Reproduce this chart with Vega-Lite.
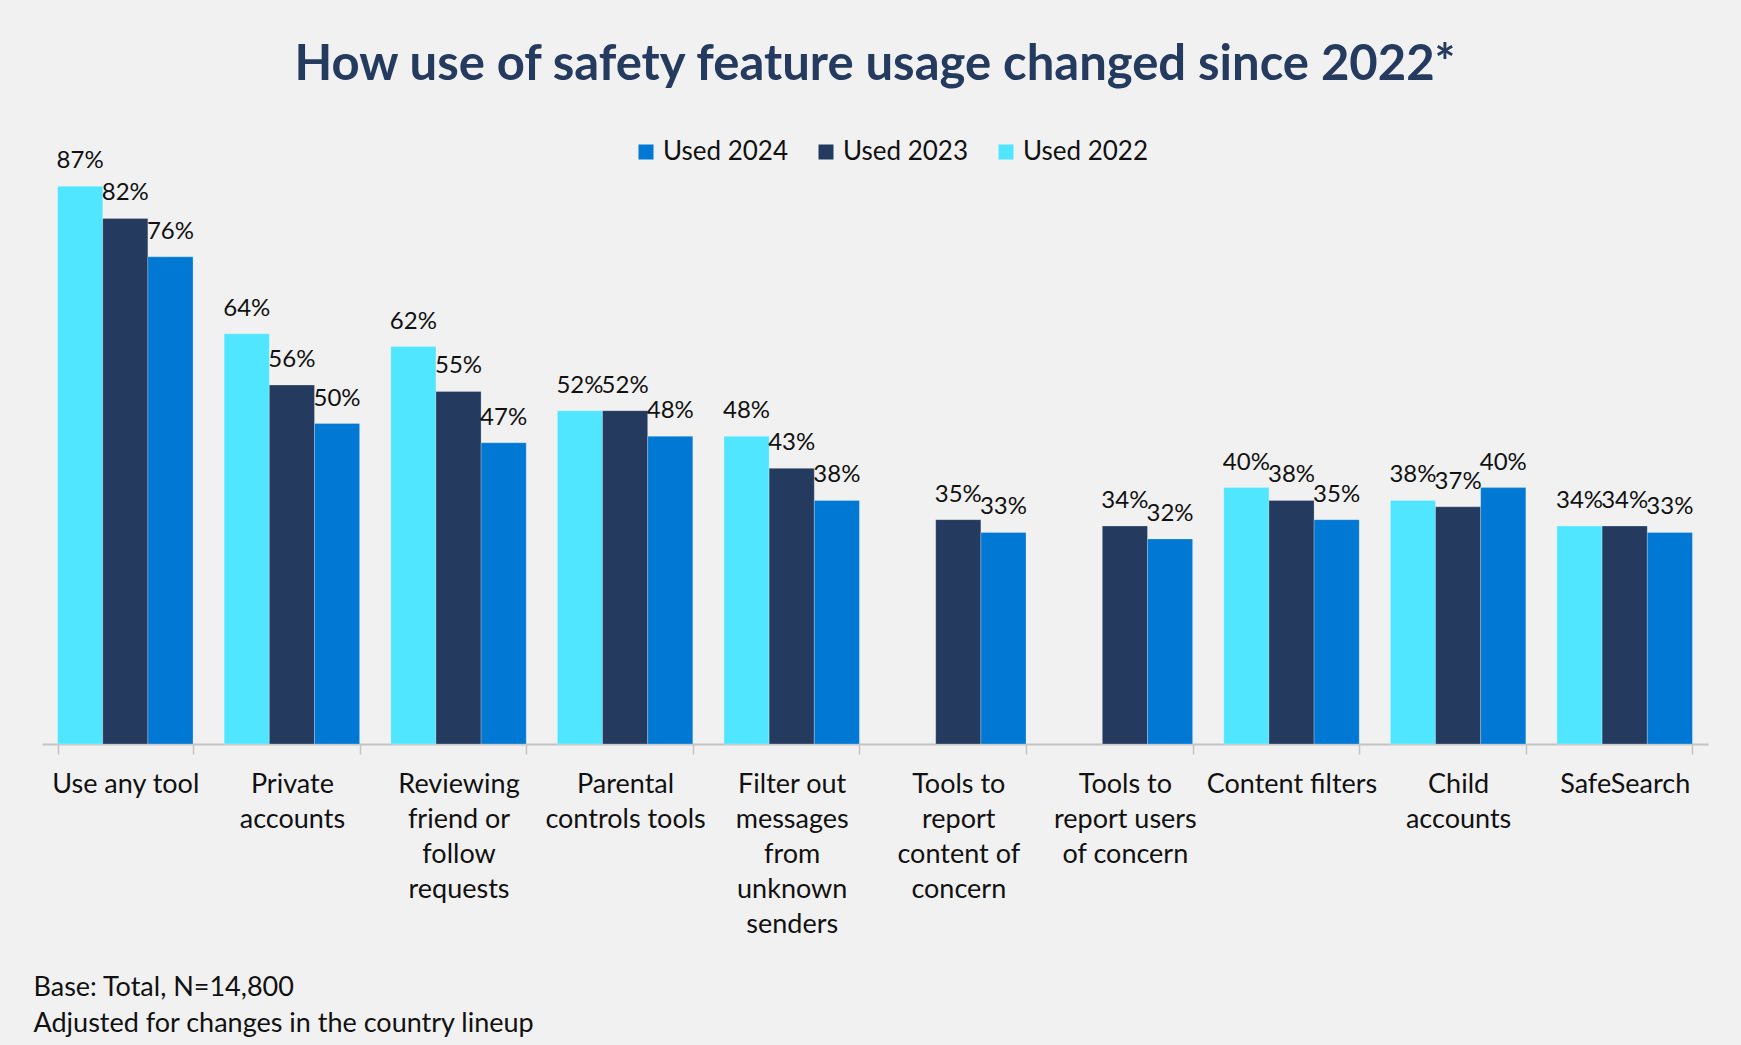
{
  "$schema": "https://vega.github.io/schema/vega-lite/v6.json",
  "width": 1666,
  "height": 641,
  "autosize": {"type": "none"},
  "padding": {"left": 42, "top": 103, "right": 33, "bottom": 301},
  "background": "#f1f1f1",
  "config": {"view": {"stroke": null}},
  "title": {
    "text": "How use of safety feature usage changed since 2022*",
    "anchor": "middle",
    "frame": "group",
    "font": "Lato",
    "fontSize": 49,
    "fontWeight": "bold",
    "color": "#243A5E",
    "offset": 13
  },
  "data": {
    "values": [
      {"feature": "Use any tool", "series": "Used 2022", "value": 0.87},
      {"feature": "Use any tool", "series": "Used 2023", "value": 0.82},
      {"feature": "Use any tool", "series": "Used 2024", "value": 0.76},
      {"feature": "Private accounts", "series": "Used 2022", "value": 0.64},
      {"feature": "Private accounts", "series": "Used 2023", "value": 0.56},
      {"feature": "Private accounts", "series": "Used 2024", "value": 0.50},
      {"feature": "Reviewing friend or follow requests", "series": "Used 2022", "value": 0.62},
      {"feature": "Reviewing friend or follow requests", "series": "Used 2023", "value": 0.55},
      {"feature": "Reviewing friend or follow requests", "series": "Used 2024", "value": 0.47},
      {"feature": "Parental controls tools", "series": "Used 2022", "value": 0.52},
      {"feature": "Parental controls tools", "series": "Used 2023", "value": 0.52},
      {"feature": "Parental controls tools", "series": "Used 2024", "value": 0.48},
      {"feature": "Filter out messages from unknown senders", "series": "Used 2022", "value": 0.48},
      {"feature": "Filter out messages from unknown senders", "series": "Used 2023", "value": 0.43},
      {"feature": "Filter out messages from unknown senders", "series": "Used 2024", "value": 0.38},
      {"feature": "Tools to report content of concern", "series": "Used 2023", "value": 0.35},
      {"feature": "Tools to report content of concern", "series": "Used 2024", "value": 0.33},
      {"feature": "Tools to report users of concern", "series": "Used 2023", "value": 0.34},
      {"feature": "Tools to report users of concern", "series": "Used 2024", "value": 0.32},
      {"feature": "Content filters", "series": "Used 2022", "value": 0.40},
      {"feature": "Content filters", "series": "Used 2023", "value": 0.38},
      {"feature": "Content filters", "series": "Used 2024", "value": 0.35},
      {"feature": "Child accounts", "series": "Used 2022", "value": 0.38},
      {"feature": "Child accounts", "series": "Used 2023", "value": 0.37},
      {"feature": "Child accounts", "series": "Used 2024", "value": 0.40},
      {"feature": "SafeSearch", "series": "Used 2022", "value": 0.34},
      {"feature": "SafeSearch", "series": "Used 2023", "value": 0.34},
      {"feature": "SafeSearch", "series": "Used 2024", "value": 0.33}
    ]
  },
  "encoding": {
    "x": {
      "field": "feature",
      "type": "nominal",
      "sort": null,
      "scale": {"paddingInner": 0.187, "paddingOuter": 0.0935},
      "axis": {
        "title": ["Base: Total, N=14,800", "Adjusted for changes in the country lineup"],
        "titleX": -9,
        "titleY": 251,
        "titleAnchor": "start",
        "titleAlign": "left",
        "titleBaseline": "alphabetic",
        "titleFont": "Lato",
        "titleFontSize": 27,
        "titleFontWeight": "normal",
        "titleLineHeight": 36,
        "titleColor": "#111111",
        "labelAngle": 0,
        "labelFont": "Lato",
        "labelFontSize": 27,
        "labelColor": "#111111",
        "labelLineHeight": 35,
        "labelPadding": 17,
        "labelLimit": 0,
        "labelOverlap": false,
        "tickBand": "extent",
        "tickSize": 10,
        "tickWidth": 1.5,
        "tickColor": "#c4c4c4",
        "domainColor": "#c4c4c4",
        "domainWidth": 2,
        "labelExpr": "datum.value == 'Private accounts' ? ['Private','accounts'] : datum.value == 'Reviewing friend or follow requests' ? ['Reviewing','friend or','follow','requests'] : datum.value == 'Parental controls tools' ? ['Parental','controls tools'] : datum.value == 'Filter out messages from unknown senders' ? ['Filter out','messages','from','unknown','senders'] : datum.value == 'Tools to report content of concern' ? ['Tools to','report','content of','concern'] : datum.value == 'Tools to report users of concern' ? ['Tools to','report users','of concern'] : datum.value == 'Child accounts' ? ['Child','accounts'] : datum.value"
      }
    },
    "xOffset": {
      "field": "series",
      "type": "nominal",
      "scale": {"domain": ["Used 2022", "Used 2023", "Used 2024"]}
    },
    "y": {
      "field": "value",
      "type": "quantitative",
      "scale": {"domain": [0, 1]},
      "axis": null
    }
  },
  "layer": [
    {
      "mark": {"type": "bar", "stroke": "#ffffff", "strokeWidth": 0.7, "strokeOpacity": 0.35},
      "encoding": {
        "color": {
          "field": "series",
          "type": "nominal",
          "scale": {
            "domain": ["Used 2024", "Used 2023", "Used 2022"],
            "range": ["#0078D4", "#243A5E", "#50E6FF"]
          },
          "legend": {
            "title": null,
            "orient": "none",
            "direction": "horizontal",
            "legendX": 591,
            "legendY": 36,
            "symbolType": "square",
            "symbolSize": 225,
            "symbolStrokeWidth": 0,
            "symbolOpacity": 1,
            "labelFont": "Lato",
            "labelFontSize": 26,
            "labelColor": "#111111",
            "labelOffset": 4,
            "columnPadding": 24
          }
        }
      }
    },
    {
      "mark": {"type": "text", "baseline": "alphabetic", "dy": -18, "font": "Lato", "fontSize": 24, "color": "#111111"},
      "encoding": {
        "text": {"field": "value", "type": "quantitative", "format": ".0%"}
      }
    }
  ]
}
